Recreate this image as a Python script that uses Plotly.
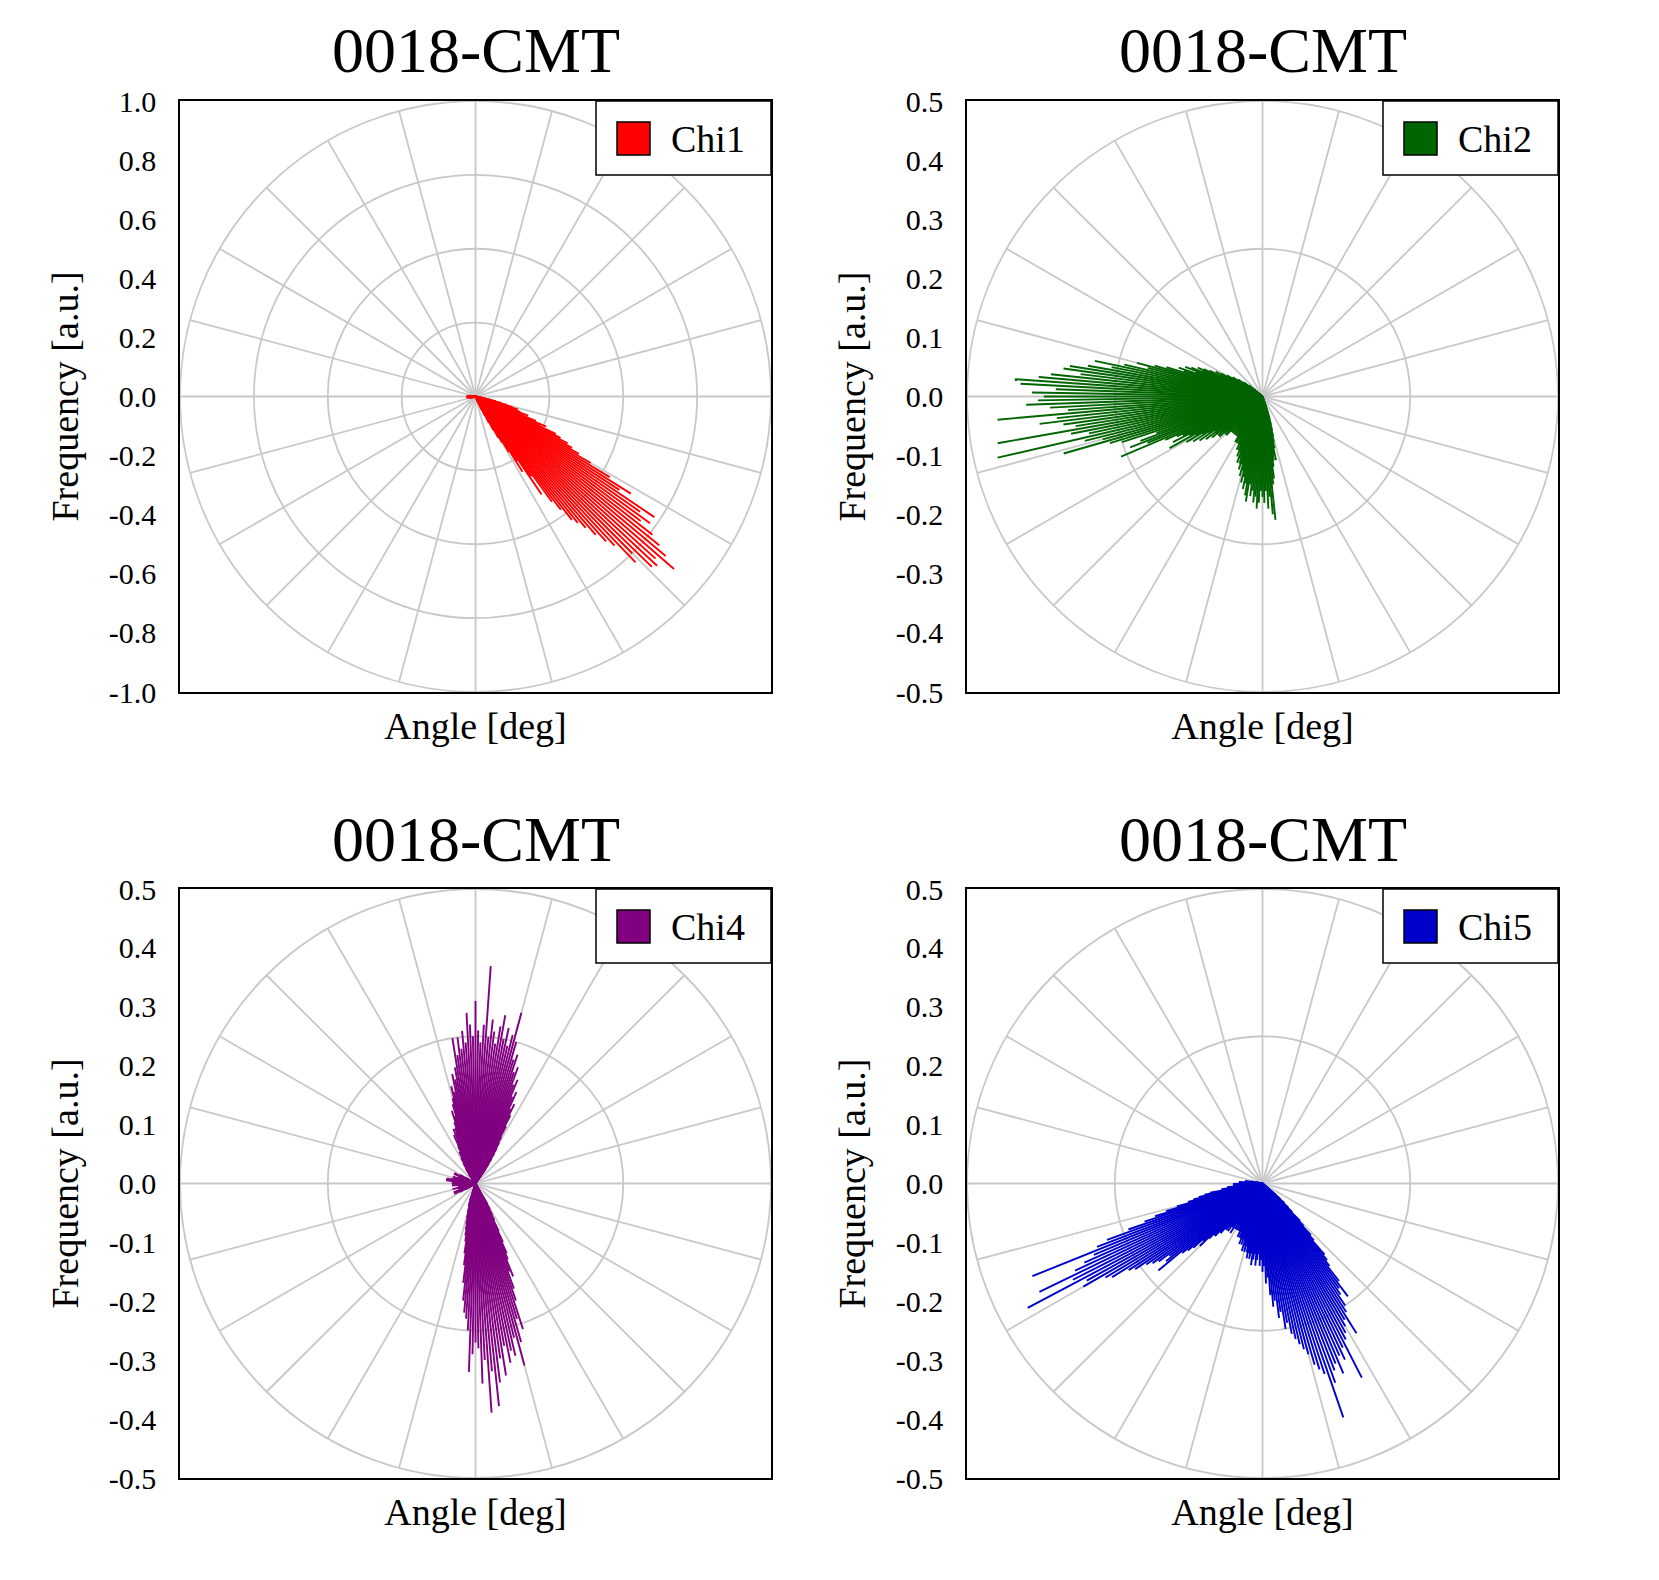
import math
import plotly.graph_objects as go

W, H = 1659, 1580
FONT = "Liberation Serif"

# ---------------- data (angle in degrees, 1-degree bins; frequency in a.u.) ----------------
chi1_main_start = -67
chi1_main_freq = [0.02, 0.03, 0.05, 0.07, 0.10, 0.13, 0.16, 0.18, 0.22, 0.30,
                  0.26, 0.40, 0.33, 0.44, 0.48, 0.53, 0.55, 0.58, 0.62, 0.66,
                  0.69, 0.78, 0.75, 0.83, 0.84, 0.82, 0.89, 0.84, 0.80, 0.76,
                  0.70, 0.73, 0.68, 0.73, 0.58, 0.62, 0.53, 0.45, 0.40, 0.37,
                  0.35, 0.32, 0.30, 0.24, 0.26, 0.22, 0.17, 0.19, 0.16, 0.12,
                  0.15, 0.13, 0.11, 0.09, 0.07, 0.05, 0.03, 0.02]
chi1_minor_start = 172
chi1_minor_freq = [0.01, 0.02, 0.01, 0.02, 0.02, 0.03, 0.02, 0.03, 0.02, 0.03,
                   0.03, 0.02, 0.03, 0.02, 0.03, 0.02, 0.02, 0.03, 0.02, 0.02,
                   0.01, 0.02, 0.01, 0.02, 0.01, 0.01, 0.01]

chi2_start = 140
chi2_freq = [0.02, 0.03, 0.03, 0.04, 0.04, 0.05, 0.05, 0.06, 0.06, 0.07,
             0.07, 0.08, 0.09, 0.08, 0.10, 0.11, 0.12, 0.11, 0.13, 0.14,
             0.12, 0.15, 0.14, 0.17, 0.19, 0.22, 0.20, 0.24, 0.29, 0.26,
             0.30, 0.33, 0.34, 0.31, 0.36, 0.38, 0.42, 0.41, 0.35, 0.39,
             0.37, 0.38, 0.40, 0.36, 0.33, 0.45, 0.35, 0.38, 0.34, 0.32,
             0.455, 0.33, 0.30, 0.46, 0.31, 0.28, 0.35, 0.27, 0.25, 0.19,
             0.22, 0.24, 0.21, 0.26, 0.18, 0.16, 0.15, 0.17, 0.14, 0.18,
             0.13, 0.15, 0.12, 0.14, 0.11, 0.13, 0.10, 0.12, 0.10, 0.11,
             0.09, 0.10, 0.09, 0.10, 0.08, 0.09, 0.08, 0.09, 0.07, 0.08,
             0.07, 0.08, 0.07, 0.08, 0.07, 0.08, 0.07, 0.08, 0.08, 0.09,
             0.08, 0.09, 0.08, 0.09, 0.10, 0.09, 0.10, 0.11, 0.10, 0.12,
             0.11, 0.12, 0.13, 0.12, 0.14, 0.13, 0.15, 0.14, 0.16, 0.15,
             0.17, 0.18, 0.15, 0.17, 0.16, 0.18, 0.17, 0.19, 0.18, 0.16,
             0.17, 0.18, 0.16, 0.19, 0.17, 0.20, 0.21, 0.15, 0.14, 0.12,
             0.11, 0.10, 0.11, 0.09, 0.08, 0.07, 0.06, 0.05, 0.04, 0.03,
             0.02]

chi4_up_start = 55
chi4_up_freq = [0.03, 0.04, 0.05, 0.06, 0.07, 0.08, 0.09, 0.11, 0.13, 0.15,
                0.14, 0.17, 0.16, 0.19, 0.18, 0.21, 0.20, 0.23, 0.22, 0.25,
                0.30, 0.26, 0.24, 0.27, 0.25, 0.29, 0.27, 0.24, 0.26, 0.28,
                0.25, 0.37, 0.27, 0.24, 0.26, 0.31, 0.25, 0.27, 0.29, 0.24,
                0.26, 0.23, 0.25, 0.22, 0.25, 0.20, 0.18, 0.19, 0.16, 0.17,
                0.15, 0.14, 0.12, 0.13, 0.11, 0.10, 0.09, 0.10, 0.08, 0.09,
                0.07, 0.06, 0.06, 0.05, 0.05, 0.04, 0.04, 0.03, 0.03, 0.02,
                0.02]
chi4_down_start = -108
chi4_down_freq = [0.03, 0.04, 0.04, 0.05, 0.06, 0.07, 0.08, 0.09, 0.10, 0.12,
                  0.14, 0.17, 0.20, 0.22, 0.23, 0.25, 0.32, 0.29, 0.27, 0.28,
                  0.34, 0.30, 0.39, 0.32, 0.38, 0.34, 0.30, 0.33, 0.28, 0.31,
                  0.29, 0.30, 0.27, 0.32, 0.28, 0.24, 0.26, 0.21, 0.19, 0.16,
                  0.17, 0.14, 0.13, 0.11, 0.09, 0.07, 0.06, 0.05, 0.04]
chi4_side_start = 150
chi4_side_freq = [0.02, 0.03, 0.02, 0.03, 0.04, 0.03, 0.04, 0.03, 0.02, 0.03,
                  0.03, 0.02, 0.03, 0.04, 0.03, 0.02, 0.03, 0.04, 0.03, 0.04,
                  0.05, 0.03, 0.04, 0.05, 0.05, 0.04, 0.03, 0.04, 0.03, 0.04,
                  0.03, 0.04, 0.03, 0.02, 0.03, 0.04, 0.03, 0.02, 0.03, 0.02,
                  0.03, 0.02, 0.03, 0.02, 0.04, 0.03, 0.02, 0.03, 0.02, 0.03,
                  0.02, 0.03, 0.04, 0.02, 0.03, 0.02, 0.04, 0.02, 0.03, 0.02,
                  0.02]

chi5_start = 170
chi5_freq = [0.02, 0.02, 0.03, 0.02, 0.03, 0.03, 0.04, 0.03, 0.04, 0.04,
             0.04, 0.05, 0.04, 0.05, 0.05, 0.05, 0.06, 0.06, 0.07, 0.07,
             0.09, 0.10, 0.11, 0.12, 0.13, 0.15, 0.17, 0.19, 0.21, 0.24,
             0.28, 0.30, 0.42, 0.31, 0.33, 0.35, 0.42, 0.36, 0.45, 0.34,
             0.35, 0.31, 0.30, 0.27, 0.26, 0.24, 0.23, 0.22, 0.20, 0.21,
             0.23, 0.18, 0.17, 0.16, 0.14, 0.15, 0.13, 0.12, 0.12, 0.11,
             0.11, 0.10, 0.10, 0.09, 0.10, 0.09, 0.09, 0.10, 0.08, 0.09,
             0.08, 0.09, 0.08, 0.09, 0.09, 0.10, 0.09, 0.10, 0.10, 0.11,
             0.10, 0.11, 0.10, 0.12, 0.11, 0.12, 0.11, 0.12, 0.13, 0.12,
             0.13, 0.12, 0.14, 0.13, 0.12, 0.14, 0.13, 0.12, 0.14, 0.13,
             0.15, 0.14, 0.17, 0.16, 0.19, 0.21, 0.20, 0.23, 0.22, 0.25,
             0.24, 0.26, 0.27, 0.28, 0.29, 0.30, 0.32, 0.33, 0.34, 0.42,
             0.36, 0.34, 0.33, 0.35, 0.32, 0.33, 0.31, 0.37, 0.30, 0.29,
             0.28, 0.27, 0.30, 0.26, 0.25, 0.23, 0.22, 0.24, 0.21, 0.18,
             0.17, 0.16, 0.13, 0.12, 0.10, 0.09, 0.07, 0.06, 0.05, 0.04,
             0.03]

names = ["Chi1", "Chi2", "Chi4", "Chi5"]
colors = ["#ff0000", "#006400", "#800080", "#0000cd"]
title_text = "0018-CMT"
x_title = "Angle [deg]"
y_title = "Frequency [a.u.]"
radial_max = [1.0, 0.5, 0.5, 0.5]
tick_step = [0.2, 0.1, 0.1, 0.1]
ring_step = 0.25
spoke_step_deg = 15

segments = [
    [(chi1_main_start, chi1_main_freq), (chi1_minor_start, chi1_minor_freq)],
    [(chi2_start, chi2_freq)],
    [(chi4_up_start, chi4_up_freq), (chi4_down_start, chi4_down_freq), (chi4_side_start, chi4_side_freq)],
    [(chi5_start, chi5_freq)],
]

# ---------------- layout geometry (pixels) ----------------
panels_px = [(180, 771, 101, 692), (967, 1558, 101, 692),
             (180, 771, 889, 1478), (967, 1558, 889, 1478)]
GRID = "#c8c8c8"

fig = go.Figure()
shapes = []
annotations = []
layout = {}

for i, (name, color, R, step, segs, (px0, px1, py0, py1)) in enumerate(
        zip(names, colors, radial_max, tick_step, segments, panels_px)):
    n = i + 1
    xa = "x" if n == 1 else f"x{n}"
    ya = "y" if n == 1 else f"y{n}"
    xkey = "xaxis" if n == 1 else f"xaxis{n}"
    ykey = "yaxis" if n == 1 else f"yaxis{n}"

    # data lines from origin
    xs, ys = [], []
    for start, vals in segs:
        for k, r in enumerate(vals):
            a = math.radians(start + k)
            xs += [0, r * math.cos(a), None]
            ys += [0, r * math.sin(a), None]
    fig.add_trace(go.Scatter(x=xs, y=ys, mode="lines", xaxis=xa, yaxis=ya,
                             line=dict(color=color, width=1.9), showlegend=False,
                             hoverinfo="skip"))

    # polar grid
    nrings = int(round(R / ring_step))
    for j in range(1, nrings + 1):
        rr = j * ring_step
        shapes.append(dict(type="circle", xref=xa, yref=ya, x0=-rr, y0=-rr, x1=rr, y1=rr,
                           line=dict(color=GRID, width=1.8), layer="below"))
    for deg in range(0, 360, spoke_step_deg):
        a = math.radians(deg)
        shapes.append(dict(type="line", xref=xa, yref=ya, x0=0, y0=0,
                           x1=R * math.cos(a), y1=R * math.sin(a),
                           line=dict(color=GRID, width=1.8), layer="below"))

    nt = int(round(2 * R / step))
    tv = [-R + k * step for k in range(nt + 1)]
    tt = [("%.1f" % v).replace("-0.0", "0.0") for v in tv]

    xd = [px0 / W, px1 / W]
    yd = [1 - py1 / H, 1 - py0 / H]
    layout[xkey] = dict(domain=xd, range=[-R, R], showgrid=False, zeroline=False,
                        showline=True, mirror=True, linecolor="black", linewidth=1.5,
                        showticklabels=False, ticks="", anchor=ya, automargin=False,
                        title=dict(text=x_title, font=dict(family=FONT, size=38, color="black"),
                                   standoff=20))
    layout[ykey] = dict(domain=yd, range=[-R, R], showgrid=False, zeroline=False,
                        showline=True, mirror=True, linecolor="black", linewidth=1.5,
                        tickmode="array", tickvals=tv, ticktext=tt, automargin=False,
                        ticks="outside", ticklen=16, tickcolor="rgba(0,0,0,0)",
                        tickfont=dict(family=FONT, size=30, color="black"), anchor=xa,
                        title=dict(text=y_title, font=dict(family=FONT, size=38, color="black"),
                                   standoff=18))

    # panel title
    annotations.append(dict(text=title_text, xref="paper", yref="paper",
                            x=(px0 + px1) / 2 / W, y=1 - (py0 - 50) / H,
                            xanchor="center", yanchor="middle", showarrow=False,
                            font=dict(family=FONT, size=64, color="black")))

    # legend box (top-right inside)
    shapes.append(dict(type="rect", xref="paper", yref="paper",
                       x0=(px1 - 175) / W, x1=px1 / W, y0=1 - (py0 + 74) / H, y1=1 - py0 / H,
                       fillcolor="white", line=dict(color="black", width=1.5), layer="above"))
    shapes.append(dict(type="rect", xref="paper", yref="paper",
                       x0=(px1 - 154) / W, x1=(px1 - 121) / W,
                       y0=1 - (py0 + 54) / H, y1=1 - (py0 + 21) / H,
                       fillcolor=color, line=dict(color="black", width=1.5), layer="above"))
    annotations.append(dict(text=name, xref="paper", yref="paper",
                            x=(px1 - 102) / W, y=1 - (py0 + 38) / H,
                            xanchor="left", yanchor="middle", showarrow=False,
                            font=dict(family=FONT, size=38, color="black")))

fig.update_layout(width=W, height=H,
                  margin=dict(l=0, r=0, t=0, b=0, pad=0, autoexpand=False),
                  paper_bgcolor="white", plot_bgcolor="white",
                  shapes=shapes, annotations=annotations, showlegend=False,
                  font=dict(family=FONT, color="black"), **layout)

fig.write_html("out.html")
